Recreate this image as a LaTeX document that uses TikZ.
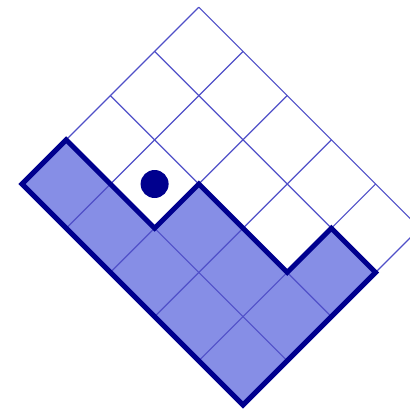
\documentclass[tikz,border=0pt]{standalone}
\definecolor{cellfill}{HTML}{868EE6}
\definecolor{edge}{HTML}{00008E}
\definecolor{gridc}{HTML}{5050C8}
\tikzset{
  cellarea/.style={fill=cellfill},
  gridline/.style={draw=gridc, line width=1.2pt},
  outline/.style={draw=edge, line width=5pt, line join=miter},
  marker/.style={circle, fill=edge, minimum size=28pt, inner sep=0pt}
}
\begin{document}
\begin{tikzpicture}[x=1pt,y=1pt]
\useasboundingbox (0,0) rectangle (410,408);
\clip (0,0) rectangle (410,408);
\begin{scope}[shift={(243pt,3pt)}, x={(44.2pt,44.2pt)}, y={(-44.2pt,44.2pt)}]
  \coordinate (p0) at (0,0);
  \coordinate (p1) at (0,5);
  \coordinate (p2) at (1,5);
  \coordinate (p3) at (1,3);
  \coordinate (p4) at (2,3);
  \coordinate (p5) at (2,1);
  \coordinate (p6) at (3,1);
  \coordinate (p7) at (3,0);
  \path[cellarea] (p0) -- (p1) -- (p2) -- (p3) -- (p4) -- (p5) -- (p6) -- (p7) -- cycle;
  \foreach \i in {0,...,4} { \draw[gridline] (\i,0) -- (\i,5); }
  \foreach \j in {0,...,5} { \draw[gridline] (0,\j) -- (4,\j); }
  \draw[outline] (p0) -- (p1) -- (p2) -- (p3) -- (p4) -- (p5) -- (p6) -- (p7) -- cycle;
  \node[marker] (dot) at (1.5,3.5) {};
\end{scope}
\end{tikzpicture}
\end{document}
